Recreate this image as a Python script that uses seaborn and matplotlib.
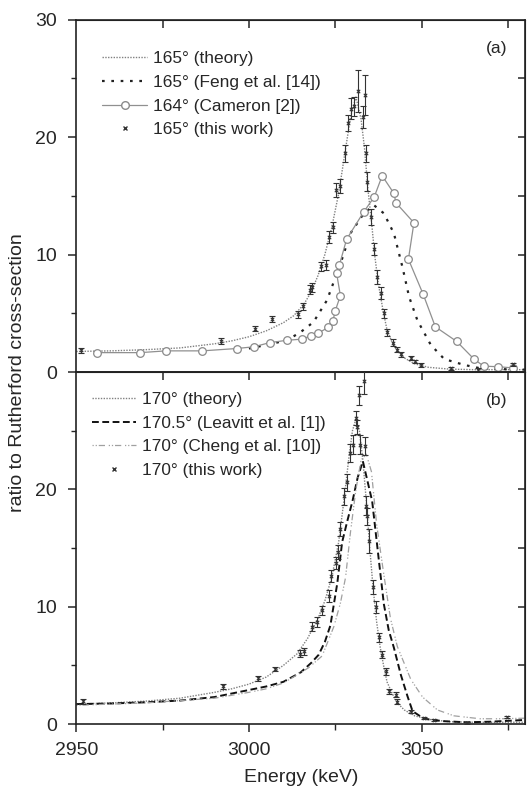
import matplotlib
matplotlib.use("Agg")
import matplotlib.pyplot as plt
import numpy as np
import seaborn as sns
from matplotlib.lines import Line2D

# ---- panel (a): 165 deg ----
theory_a_x = [2950, 2960, 2970, 2980, 2990, 2995, 3000, 3005, 3010, 3013, 3016, 3018, 3020,
              3022, 3024, 3026, 3028, 3029.5, 3031, 3032.5, 3033.5, 3034.5, 3035.5, 3036.5,
              3037.5, 3039, 3040, 3041.5, 3043, 3045, 3048, 3052, 3058, 3065, 3072, 3080]
theory_a_y = [1.75, 1.8, 1.9, 2.05, 2.4, 2.65, 3.0, 3.5, 4.2, 4.8, 5.8, 6.8, 8.2,
              10.0, 12.3, 15.2, 19.0, 21.8, 23.4, 21.5, 19.0, 15.5, 12.8, 9.8,
              7.5, 5.0, 3.6, 2.5, 1.8, 1.2, 0.7, 0.4, 0.25, 0.2, 0.2, 0.2]

feng_x = [3000, 3005, 3011, 3015, 3018.7, 3022.6, 3026.5, 3029.4, 3033.3, 3036.2, 3039.1,
          3042.0, 3044.5, 3046.4, 3048.8, 3052.7, 3056.6, 3062.4, 3067.3, 3072, 3080]
feng_y = [2.0, 2.3, 2.7, 3.4, 4.25, 6.1, 9.2, 11.8, 13.5, 14.2, 13.5,
          11.8, 8.9, 6.4, 4.4, 2.3, 1.1, 0.6, 0.3, 0.25, 0.2]

cameron_x = [2956, 2968.5, 2976, 2986.5, 2996.5, 3001.5, 3006, 3011, 3015.5, 3018, 3020,
             3023, 3024.3, 3025, 3026.5, 3025.4, 3026.2, 3028.3, 3033.2, 3036.3, 3038.6,
             3042, 3042.6, 3047.8, 3046.2, 3050.5, 3054, 3060.2, 3065.2, 3068, 3072.2, 3076.5]
cameron_y = [1.65, 1.65, 1.8, 1.8, 2.0, 2.15, 2.5, 2.7, 2.8, 3.1, 3.3,
             3.8, 4.3, 5.2, 6.5, 8.4, 9.1, 11.3, 13.6, 14.9, 16.7,
             15.2, 14.4, 12.7, 9.6, 6.6, 3.85, 2.6, 1.1, 0.5, 0.45, 0.35]

exp_a_x = [2951.5, 2991.8, 3001.7, 3006.8, 3014.3, 3015.6, 3017.6, 3018.3, 3020.9, 3022.4,
           3023.2, 3024.3, 3025.3, 3026.5, 3027.9, 3028.7, 3029.6, 3030.4, 3031.6, 3033.5,
           3033.1, 3033.8, 3034.3, 3035.5, 3036.2, 3037.2, 3038.4, 3039.1, 3040.1, 3041.6,
           3043.0, 3044.0, 3046.9, 3048.0, 3049.8, 3058.6, 3066.3, 3076.5]
exp_a_y = [1.85, 2.65, 3.7, 4.5, 4.9, 5.6, 7.0, 7.2, 9.0, 9.1,
           11.5, 12.3, 15.5, 15.8, 18.6, 21.2, 22.4, 22.6, 23.9, 23.6,
           21.7, 18.6, 16.2, 13.2, 10.5, 8.1, 6.7, 5.0, 3.4, 2.5,
           1.9, 1.5, 1.2, 0.9, 0.6, 0.3, 0.2, 0.65]
exp_a_err = [0.2, 0.25, 0.25, 0.25, 0.3, 0.3, 0.4, 0.4, 0.4, 0.4,
             0.5, 0.5, 0.6, 0.6, 0.7, 0.7, 0.9, 0.8, 1.8, 1.7,
             0.9, 0.7, 0.8, 0.7, 0.5, 0.6, 0.5, 0.4, 0.3, 0.3,
             0.2, 0.2, 0.2, 0.15, 0.15, 0.1, 0.1, 0.1]

# ---- panel (b): 170 deg ----
theory_b_x = [2950, 2960, 2970, 2980, 2990, 2995, 3000, 3005, 3010, 3014, 3017, 3020, 3022,
              3024, 3026, 3027.5, 3029, 3030, 3031, 3032, 3033, 3034, 3035, 3036, 3037,
              3038, 3039, 3040, 3041.5, 3043, 3045, 3048, 3052, 3058, 3065, 3080]
theory_b_y = [1.7, 1.8, 1.95, 2.2, 2.7, 3.0, 3.4, 4.0, 5.0, 6.0, 7.3, 9.0, 10.5,
              12.5, 15.5, 19.0, 22.8, 25.0, 26.0, 25.0, 22.5, 19.0, 15.0, 11.5, 8.7,
              6.6, 5.0, 3.6, 2.6, 1.8, 1.2, 0.7, 0.4, 0.2, 0.15, 0.15]

leavitt_x = [2950, 2960, 2970, 2980, 2990, 3000, 3005, 3010, 3015, 3018, 3020.2, 3022,
             3023.6, 3025.6, 3027, 3028.5, 3030, 3031.5, 3033, 3035.7, 3037.7, 3039.1,
             3040.5, 3042, 3044, 3045.9, 3047.4, 3050.7, 3056, 3063, 3070, 3080]
leavitt_y = [1.7, 1.75, 1.85, 2.0, 2.3, 2.9, 3.2, 3.6, 4.4, 5.2, 5.9, 7.0,
             8.4, 12.0, 15.5, 17.3, 19.0, 21.0, 22.4, 19.0, 13.8, 10.2,
             8.0, 6.5, 4.2, 2.4, 1.1, 0.45, 0.25, 0.15, 0.2, 0.35]

cheng_x = [2950, 2970, 2990, 3000, 3005, 3010, 3014, 3017.3, 3021.2, 3024.6, 3026.5, 3028,
           3029.4, 3031, 3032.5, 3034, 3035.5, 3037, 3039, 3041, 3043, 3046.9, 3050.3,
           3054.6, 3059.4, 3067, 3073, 3080]
cheng_y = [1.6, 1.8, 2.2, 2.7, 3.0, 3.5, 4.2, 4.8, 5.8, 8.3, 10.3, 12.5,
           16.3, 20.0, 22.5, 23.0, 21.5, 17.0, 12.9, 9.0, 6.6, 3.8, 2.3,
           1.2, 0.7, 0.45, 0.45, 0.5]

exp_b_x = [2952.0, 2992.5, 3002.5, 3007.5, 3014.9, 3015.9, 3018.3, 3019.8, 3021.2, 3023.1,
           3023.9, 3025.1, 3025.9, 3026.5, 3027.5, 3028.3, 3029.2, 3030.1, 3030.9, 3031.4,
           3032.0, 3033.2, 3032.3, 3033.5, 3034.0, 3034.3, 3034.8, 3035.9, 3036.7, 3037.7,
           3038.6, 3039.6, 3040.6, 3042.5, 3043.0, 3046.9, 3050.7, 3053.6, 3063.3, 3074.9]
exp_b_y = [1.95, 3.2, 3.9, 4.7, 6.0, 6.2, 8.3, 8.7, 9.7, 10.9,
           12.6, 13.7, 14.7, 16.6, 19.4, 20.6, 23.1, 23.8, 26.1, 25.3,
           28.0, 29.2, 23.8, 23.7, 18.6, 17.7, 15.6, 11.7, 10.0, 7.4,
           5.9, 4.5, 2.8, 2.5, 1.9, 1.05, 0.5, 0.35, 0.1, 0.6]
exp_b_err = [0.2, 0.2, 0.2, 0.2, 0.3, 0.3, 0.4, 0.4, 0.4, 0.5,
             0.5, 0.5, 0.6, 0.6, 0.7, 0.7, 0.8, 0.8, 0.6, 0.6,
             0.85, 1.1, 0.8, 0.8, 0.8, 0.7, 1.0, 0.6, 0.5, 0.4,
             0.3, 0.3, 0.2, 0.2, 0.2, 0.15, 0.1, 0.1, 0.1, 0.1]

sns.set_style("ticks")
plt.rcParams["font.family"] = ["Liberation Sans", "DejaVu Sans"]

fig = plt.figure(figsize=(5.28, 7.87), dpi=100)
ax_a = fig.add_axes([0.1445, 0.5273, 0.850, 0.4479])
ax_b = fig.add_axes([0.1445, 0.0800, 0.850, 0.4473])

THEORY = dict(color="#808080", lw=1.0, linestyle=(0, (1, 1)))
DATA_COLOR = "#333333"


def draw_data(ax, x, y, err):
    ax.errorbar(x, y, yerr=err, fmt="none", ecolor=DATA_COLOR, elinewidth=0.8,
                capsize=2.5, capthick=0.8, zorder=5)
    sns.scatterplot(x=x, y=y, marker="x", s=6, color=DATA_COLOR, linewidth=0.8,
                    ax=ax, zorder=6, legend=False)


def style_axes(ax, top_panel):
    ax.set_xlim(2950, 3080)
    ax.set_ylim(0, 30)
    for s in ax.spines.values():
        s.set_visible(True)
        s.set_linewidth(1.2)
        s.set_color("#222222")
    ax.set_xticks([2950, 3000, 3050])
    ax.set_xticks([2975, 3025, 3075], minor=True)
    if top_panel:
        ax.set_yticks([0, 10, 20, 30])
        ax.tick_params(axis="x", which="both", bottom=False, labelbottom=False)
    else:
        ax.set_yticks([0, 10, 20])
        ax.tick_params(axis="x", which="major", direction="out", length=6, width=1.1,
                       labelsize=14, pad=7)
        ax.tick_params(axis="x", which="minor", direction="out", length=4, width=1.0)
    ax.set_yticks([5, 15, 25], minor=True)
    ax.tick_params(axis="y", which="major", direction="out", length=6, width=1.1,
                   labelsize=14, right=False, pad=8)
    ax.tick_params(axis="y", which="minor", direction="out", length=3.5, width=1.0,
                   right=False)
    sec_x = ax.secondary_xaxis("top")
    sec_x.set_xticks([2975, 3000, 3025, 3050, 3075])
    sec_x.tick_params(direction="in", length=6, width=1.1, labeltop=False)
    sec_y = ax.secondary_yaxis("right")
    sec_y.set_yticks([5, 10, 15, 20, 25])
    sec_y.tick_params(direction="in", length=5, width=1.1, labelright=False)
    ax.set_xlabel("")
    ax.set_ylabel("")


# panel (a)
sns.lineplot(x=theory_a_x, y=theory_a_y, ax=ax_a, sort=False, **THEORY)
sns.lineplot(x=feng_x, y=feng_y, ax=ax_a, sort=False, color="#222222", lw=1.6,
             linestyle=(0, (1.2, 3.0)))
sns.lineplot(x=cameron_x, y=cameron_y, ax=ax_a, sort=False, color="#909090", lw=0.9,
             marker="o", markersize=5.5, markerfacecolor="white",
             markeredgecolor="#8a8a8a", markeredgewidth=0.9)
draw_data(ax_a, exp_a_x, exp_a_y, exp_a_err)
style_axes(ax_a, True)

handles_a = [
    Line2D([], [], **THEORY),
    Line2D([], [], color="#222222", lw=1.6, linestyle=(0, (1.2, 3.0))),
    Line2D([], [], color="#909090", lw=0.9, marker="o", markersize=5.5,
           markerfacecolor="white", markeredgecolor="#8a8a8a"),
    Line2D([], [], color=DATA_COLOR, lw=0, marker="x", markersize=2.5),
]
labels_a = ["165° (theory)", "165° (Feng et al. [14])", "164° (Cameron [2])",
            "165° (this work)"]
ax_a.legend(handles_a, labels_a, loc="upper left", bbox_to_anchor=(0.058, 0.91),
            frameon=False, fontsize=12.4, handlelength=2.6, handletextpad=0.35,
            labelspacing=0.5, borderpad=0, borderaxespad=0)
ax_a.text(0.937, 0.918, "(a)", transform=ax_a.transAxes, fontsize=12.6,
          ha="center", va="center")

# panel (b)
sns.lineplot(x=theory_b_x, y=theory_b_y, ax=ax_b, sort=False, **THEORY)
sns.lineplot(x=leavitt_x, y=leavitt_y, ax=ax_b, sort=False, color="#111111", lw=1.4,
             linestyle=(0, (3.5, 1.8)))
sns.lineplot(x=cheng_x, y=cheng_y, ax=ax_b, sort=False, color="#a0a0a0", lw=0.9,
             linestyle=(0, (1, 1.5, 1, 1.5, 5, 3)))
draw_data(ax_b, exp_b_x, exp_b_y, exp_b_err)
style_axes(ax_b, False)

handles_b = [
    Line2D([], [], **THEORY),
    Line2D([], [], color="#111111", lw=1.4, linestyle=(0, (3.5, 1.8))),
    Line2D([], [], color="#a0a0a0", lw=0.9, linestyle=(0, (1, 1.5, 1, 1.5, 5, 3))),
    Line2D([], [], color=DATA_COLOR, lw=0, marker="x", markersize=2.5),
]
labels_b = ["170° (theory)", "170.5° (Leavitt et al. [1])", "170° (Cheng et al. [10])",
            "170° (this work)"]
ax_b.legend(handles_b, labels_b, loc="upper left", bbox_to_anchor=(0.034, 0.943),
            frameon=False, fontsize=12.4, handlelength=2.6, handletextpad=0.35,
            labelspacing=0.5, borderpad=0, borderaxespad=0)
ax_b.text(0.937, 0.92, "(b)", transform=ax_b.transAxes, fontsize=12.6,
          ha="center", va="center")

ax_b.set_xlabel("Energy (keV)", fontsize=14, labelpad=7)
fig.text(0.034, 0.527, "ratio to Rutherford cross-section", rotation=90,
         fontsize=14, ha="center", va="center")

fig.savefig("out.png", dpi=100)
